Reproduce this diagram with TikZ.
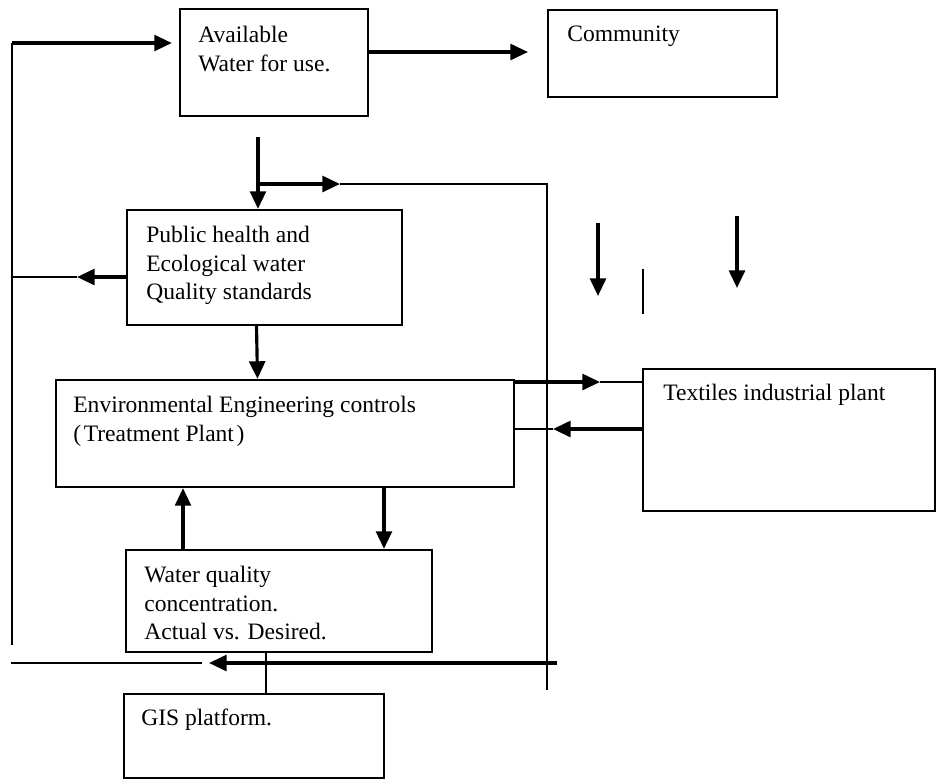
\documentclass[tikz,border=0pt]{standalone}
\usepackage{fontspec}
\setmainfont{Liberation Serif}
\usetikzlibrary{arrows.meta,fit}
\tikzset{>={Triangle[length=10pt,width=9pt]}}

\begin{document}
\begin{tikzpicture}[x=0.02cm,y=-0.02cm,
  box/.style={draw,line width=1.3pt,inner sep=0pt},
  lbl/.style={inner sep=0pt,anchor=north west,align=left,font=\fontsize{13.4}{16.2}\selectfont},
  flow/.style={->,line width=1.8pt},
  wire/.style={line width=1pt}]
\useasboundingbox (0,0) rectangle (936,779);
% boxes
\node[box,fit={(180,9) (368,116)}] (avail) {};
\node[box,fit={(548,10) (777,97)}] (comm) {};
\node[box,fit={(127,210) (402,325)}] (pub) {};
\node[box,fit={(56,380) (514,487)}] (env) {};
\node[box,fit={(643,369) (935,511)}] (tex) {};
\node[box,fit={(126,550) (432,652)}] (wq) {};
\node[box,fit={(124,694) (384,778)}] (gis) {};
% texts
\node[lbl] (availtxt) at (198,26) {Available\\Water for use.};
\node[lbl] (commtxt) at (567,26) {Community};
\node[lbl] (pubtxt) at (146,226) {Public health and\\Ecological water\\Quality standards};
\node[lbl] (envtxt) at (73,396) {Environmental Engineering controls\\(\kern1.5pt Treatment Plant\kern1.5pt)};
\node[lbl] (textxt) at (663,384) {Textiles industrial plant};
\node[lbl] (wqtxt) at (144,566) {Water quality\\concentration.\\Actual vs. Desired.};
\node[lbl] (gistxt) at (141,709) {GIS platform.};

% loop on the left
\coordinate (lbot) at (12,645);
\coordinate (ltop) at (12,43);
\draw[wire] (lbot) -- (ltop);
\draw[flow,shorten >=4pt] (ltop) -- (ltop -| avail.west);
\coordinate (c1) at (528,52);
\draw[flow] (avail.east |- c1) -- (c1);
\coordinate (c2) at (77,277);
\draw[flow] (pub.west |- c2) -- (c2);
\draw[wire] (c2) -- (c2 -| ltop);

% supply branch
\coordinate (c3) at (258,137);
\draw[flow] (c3) -- (c3 |- pub.north);
\coordinate (c4) at (258,184);
\coordinate (c5) at (340,184);
\coordinate (c6) at (547,690);
\draw[flow] (c4) -- (c5);
\draw[wire] (c5) -- (c5 -| c6) -- (c6);
\draw[flow] ([xshift=-0.16cm]pub.south) -- ([xshift=-0.14cm]pub.south |- env.north);

% plant in and out
\coordinate (c8) at (600,382);
\draw[flow] (env.east |- c8) -- (c8);
\draw[wire] (c8) -- (c8 -| tex.west);
\coordinate (c9) at (553,429);
\draw[flow] (tex.west |- c9) -- (c9);
\draw[wire] (c9) -- (c9 -| env.east);

% treatment and concentration
\draw[flow] ([xshift=-1.92cm]wq.north) -- ([xshift=-1.92cm]wq.north |- env.south);
\draw[flow] ([xshift=2.1cm]wq.north |- env.south) -- ([xshift=2.1cm]wq.north);
\draw[line width=1.6pt] ([xshift=-0.26cm]wq.south) -- ([xshift=-0.26cm]wq.south |- gis.north);

% bottom return
\coordinate (c11) at (557,663);
\coordinate (c12) at (209,663);
\coordinate (c13) at (11,663);
\coordinate (c14) at (202,663);
\draw[flow] (c11) -- (c12);
\draw[wire] (c13) -- (c14);

% loose arrows
\coordinate (d1) at (598,223);
\coordinate (d2) at (598,296);
\coordinate (d3) at (643,269);
\coordinate (d4) at (643,314);
\coordinate (d5) at (737,216);
\coordinate (d6) at (737,288);
\draw[flow] (d1) -- (d2);
\draw[wire] (d3) -- (d4);
\draw[flow] (d5) -- (d6);
\end{tikzpicture}
\end{document}
